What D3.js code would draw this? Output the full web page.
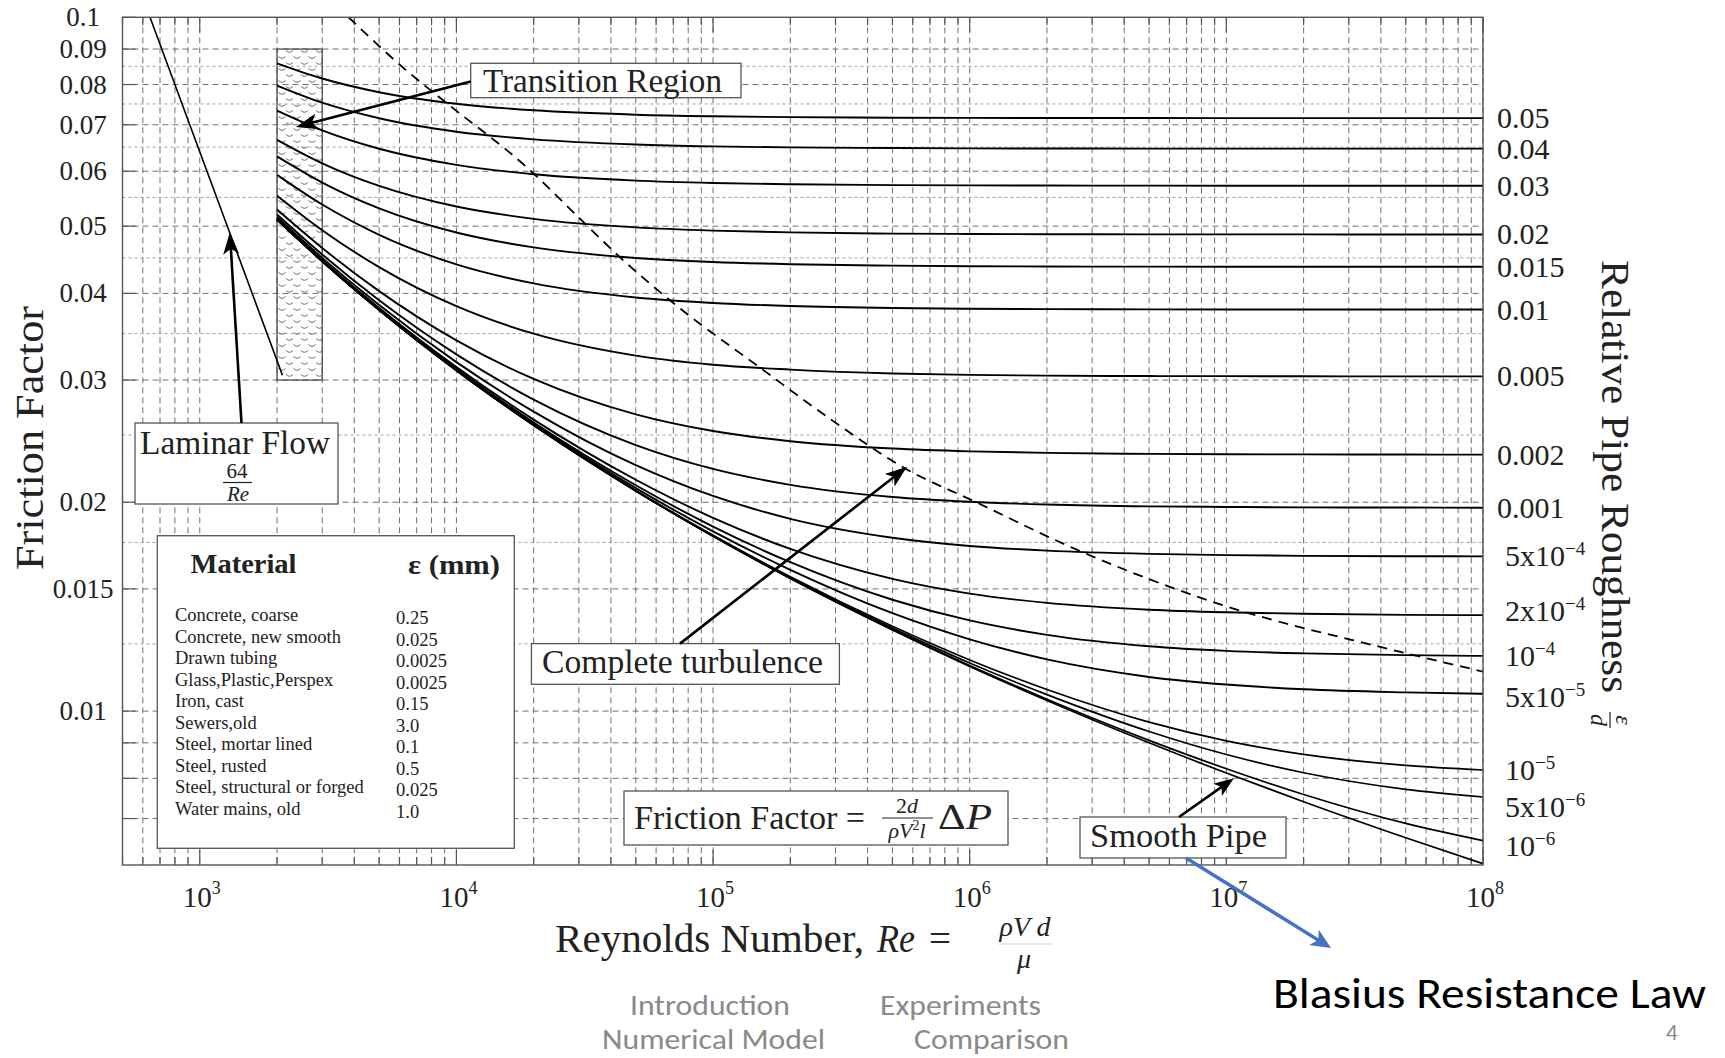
<!DOCTYPE html>
<html>
<head>
<meta charset="utf-8">
<script src="https://cdn.jsdelivr.net/npm/d3@7"></script>
<style>
  body { margin: 0; background: #fff; }
  svg { display: block; }
</style>
</head>
<body>
<svg id="chart" width="1725" height="1058"></svg>
<script>
// ---------------- data ----------------
// Reynolds numbers at which each roughness curve is sampled
const reynolds = [2e3, 3e3, 5e3, 1e4, 2e4, 5e4, 1e5, 2e5, 5e5, 1e6, 2e6, 5e6, 1e7, 2e7, 5e7, 1e8];

// relative roughness of each curve (0 = smooth pipe)
const relRoughness = [0.05, 0.04, 0.03, 0.02, 0.015, 0.01, 0.005, 0.002, 0.001,
                      5e-4, 2e-4, 1e-4, 5e-5, 1e-5, 5e-6, 1e-6, 0];

// friction factor of each curve, one row per roughness, one entry per Reynolds number
const frictionCurves = [
  [0.08584,0.08162,0.07799,0.07505,0.07344,0.07238,0.07200,0.07179,0.07166,0.07161,0.07158,0.07158,0.07157,0.07156,0.07155,0.07155],
  [0.07972,0.07532,0.07152,0.06840,0.06669,0.06556,0.06515,0.06493,0.06479,0.06473,0.06470,0.06468,0.06468,0.06467,0.06467,0.06467],
  [0.07334,0.06870,0.06464,0.06127,0.05940,0.05816,0.05770,0.05746,0.05730,0.05724,0.05721,0.05719,0.05718,0.05718,0.05717,0.05717],
  [0.06658,0.06159,0.05714,0.05336,0.05123,0.04979,0.04926,0.04897,0.04878,0.04872,0.04868,0.04866,0.04865,0.04865,0.04864,0.04864],
  [0.06302,0.05778,0.05304,0.04895,0.04659,0.04499,0.04439,0.04407,0.04386,0.04378,0.04374,0.04371,0.04370,0.04370,0.04369,0.04369],
  [0.05928,0.05372,0.04859,0.04404,0.04135,0.03946,0.03875,0.03836,0.03810,0.03801,0.03796,0.03793,0.03792,0.03791,0.03791,0.03791],
  [0.05533,0.04934,0.04364,0.03833,0.03499,0.03253,0.03156,0.03106,0.03066,0.03052,0.03045,0.03040,0.03039,0.03038,0.03037,0.03037],
  [0.05283,0.04650,0.04030,0.03422,0.03011,0.02677,0.02533,0.02449,0.02390,0.02368,0.02356,0.02348,0.02345,0.02344,0.02343,0.02342],
  [0.05197,0.04551,0.03910,0.03267,0.02812,0.02418,0.02234,0.02119,0.02035,0.02003,0.01985,0.01973,0.01969,0.01966,0.01965,0.01964],
  [0.05153,0.04500,0.03848,0.03184,0.02702,0.02262,0.02042,0.01893,0.01778,0.01730,0.01703,0.01685,0.01678,0.01674,0.01672,0.01671],
  [0.05127,0.04470,0.03810,0.03132,0.02631,0.02155,0.01899,0.01713,0.01551,0.01477,0.01432,0.01400,0.01388,0.01381,0.01376,0.01375],
  [0.05118,0.04459,0.03797,0.03115,0.02606,0.02116,0.01845,0.01639,0.01447,0.01351,0.01288,0.01240,0.01221,0.01211,0.01204,0.01201],
  [0.05114,0.04454,0.03791,0.03106,0.02594,0.02096,0.01816,0.01598,0.01384,0.01269,0.01187,0.01120,0.01092,0.01075,0.01064,0.01059],
  [0.05110,0.04450,0.03786,0.03099,0.02584,0.02080,0.01792,0.01562,0.01325,0.01185,0.01074,0.009638,0.009058,0.008662,0.008351,0.008224],
  [0.05110,0.04450,0.03785,0.03098,0.02583,0.02078,0.01789,0.01558,0.01317,0.01173,0.01056,0.009344,0.008657,0.008150,0.007713,0.007519],
  [0.05110,0.04449,0.03785,0.03097,0.02582,0.02076,0.01787,0.01554,0.01311,0.01163,0.01040,0.009074,0.008258,0.007583,0.006889,0.006506],
  [0.05109,0.04449,0.03785,0.03097,0.02581,0.02076,0.01786,0.01553,0.01309,0.01160,0.01036,0.009001,0.008142,0.007401,0.006567,0.006026]
];

// labels on the right-hand side (mantissa part and exponent part)
const roughnessLabelBase = ['0.05','0.04','0.03','0.02','0.015','0.01','0.005','0.002','0.001',
                            '5x10','2x10','10','5x10','10','5x10','10'];
const roughnessLabelExp  = ['','','','','','','','','',
                            '\u22124','\u22124','\u22124','\u22125','\u22125','\u22126','\u22126'];

// laminar flow line, f = 64/Re
const laminarRe = [640, 1000, 2100];
const laminarF  = [0.1, 0.064, 0.03048];

// boundary of the complete-turbulence zone (dashed)
const boundaryRe = [3800, 6250, 9300, 18700, 30700, 42800, 67900, 161000, 293000, 569000, 1.03e6, 2.6e6, 9.2e6, 4.25e7, 1e8];
const boundaryF  = [0.1, 0.0844, 0.0749, 0.0609, 0.051, 0.0453, 0.0391, 0.0308, 0.0262, 0.0223, 0.0201, 0.0171, 0.0143, 0.0123, 0.0114];

// transition region band
const transitionRe = [2000, 3000];
const transitionF  = [0.03, 0.09];

// axes
const yTickValues = [0.1, 0.09, 0.08, 0.07, 0.06, 0.05, 0.04, 0.03, 0.02, 0.015, 0.01];
const yTickLabels = ['0.1','0.09','0.08','0.07','0.06','0.05','0.04','0.03','0.02','0.015','0.01'];
const yUnlabelled = [0.009, 0.008, 0.007];
const yMinorGrid  = [0.085, 0.075, 0.065, 0.055, 0.045, 0.035, 0.025, 0.0175, 0.0125];
const xTickValues = [1e3, 1e4, 1e5, 1e6, 1e7, 1e8];
const xTickExponents = ['3','4','5','6','7','8'];

// material table
const materialNames = ['Concrete, coarse','Concrete, new smooth','Drawn tubing','Glass,Plastic,Perspex',
  'Iron, cast','Sewers,old','Steel, mortar lined','Steel, rusted','Steel, structural or forged','Water mains, old'];
const materialEps = ['0.25','0.025','0.0025','0.0025','0.15','3.0','0.1','0.5','0.025','1.0'];

// ---------------- drawing ----------------
const SERIF = "'Liberation Serif','Times New Roman',serif";
const SANS = "Carlito,'Liberation Sans Narrow','Open Sans',sans-serif";
const svg = d3.select('#chart');
svg.append('rect').attr('width', 1725).attr('height', 1058).attr('fill', '#fff');

const plot = { left: 122.5, right: 1483, top: 17.3, bottom: 865 };
const x = d3.scaleLog().domain([500, 1e8]).range([plot.left, plot.right]);
const y = d3.scaleLog().domain([0.006, 0.1]).range([plot.bottom, plot.top]);

const defs = svg.append('defs');
defs.append('clipPath').attr('id', 'plotClip').append('rect')
  .attr('x', plot.left).attr('y', plot.top)
  .attr('width', plot.right - plot.left).attr('height', plot.bottom - plot.top);

// small wave marks used to shade the transition band
const pat = defs.append('pattern').attr('id', 'waves').attr('patternUnits', 'userSpaceOnUse')
  .attr('width', 15).attr('height', 12);
pat.append('path').attr('d', 'M1,2.5 q3.5,3.5 7,0').attr('fill', 'none').attr('stroke', '#6a6a6a').attr('stroke-width', 1);
pat.append('path').attr('d', 'M8.5,8.5 q3.5,3.5 7,0 M-6.5,8.5 q3.5,3.5 7,0').attr('fill', 'none').attr('stroke', '#6a6a6a').attr('stroke-width', 1);

// grid
const grid = svg.append('g');
grid.selectAll('line.vg').data(x.ticks()).join('line')
  .attr('x1', d => x(d)).attr('x2', d => x(d))
  .attr('y1', plot.top).attr('y2', plot.bottom)
  .attr('stroke', '#707070').attr('stroke-width', 1).attr('stroke-dasharray', '6,4');
grid.selectAll('line.hg').data(yTickValues.slice(1).concat(yUnlabelled)).join('line')
  .attr('x1', plot.left).attr('x2', plot.right)
  .attr('y1', d => y(d)).attr('y2', d => y(d))
  .attr('stroke', '#707070').attr('stroke-width', 1).attr('stroke-dasharray', '6,4');
grid.append('g').selectAll('line').data(yMinorGrid).join('line')
  .attr('x1', plot.left).attr('x2', plot.right)
  .attr('y1', d => y(d)).attr('y2', d => y(d))
  .attr('stroke', '#a0a0a0').attr('stroke-width', 1).attr('stroke-dasharray', '3,3');

// frame ticks
const ticks = svg.append('g').attr('stroke', '#555').attr('stroke-width', 1.2);
x.ticks().forEach(v => {
  const major = xTickValues.includes(v);
  const len = major ? 15 : 8;
  ticks.append('line').attr('x1', x(v)).attr('x2', x(v)).attr('y1', plot.bottom).attr('y2', plot.bottom - len);
  ticks.append('line').attr('x1', x(v)).attr('x2', x(v)).attr('y1', plot.top).attr('y2', plot.top + len);
});
yTickValues.concat(yUnlabelled).forEach(v => {
  ticks.append('line').attr('x1', plot.left).attr('x2', plot.left + 13).attr('y1', y(v)).attr('y2', y(v));
});

// transition band
svg.append('rect')
  .attr('x', x(transitionRe[0])).attr('y', y(transitionF[1]))
  .attr('width', x(transitionRe[1]) - x(transitionRe[0]))
  .attr('height', y(transitionF[0]) - y(transitionF[1]))
  .attr('fill', 'url(#waves)').attr('stroke', '#444').attr('stroke-width', 1.2);

// curves
const curves = svg.append('g').attr('clip-path', 'url(#plotClip)');
const line = d3.line().x(d => x(d[0])).y(d => y(d[1])).curve(d3.curveMonotoneX);
frictionCurves.forEach((row, i) => {
  curves.append('path')
    .datum(reynolds.map((re, j) => [re, row[j]]))
    .attr('d', line).attr('fill', 'none').attr('stroke', '#000')
    .attr('stroke-width', i >= 13 ? 1.7 : 1.9);
});
curves.append('path')
  .datum(laminarRe.map((re, j) => [re, laminarF[j]]))
  .attr('d', d3.line().x(d => x(d[0])).y(d => y(d[1])))
  .attr('fill', 'none').attr('stroke', '#000').attr('stroke-width', 1.6);
curves.append('path')
  .datum(boundaryRe.map((re, j) => [re, boundaryF[j]]))
  .attr('d', line).attr('fill', 'none').attr('stroke', '#000')
  .attr('stroke-width', 1.8).attr('stroke-dasharray', '10,7');

// frame
svg.append('rect').attr('x', plot.left).attr('y', plot.top)
  .attr('width', plot.right - plot.left).attr('height', plot.bottom - plot.top)
  .attr('fill', 'none').attr('stroke', '#555').attr('stroke-width', 1.4);

// y tick labels
svg.append('g').selectAll('text').data(yTickValues).join('text')
  .attr('x', 83).attr('y', d => y(d) + 9)
  .attr('text-anchor', 'middle').attr('font-family', SERIF).attr('font-size', 27).attr('fill', '#222')
  .text((d, i) => yTickLabels[i]);

// x tick labels
const xl = svg.append('g').attr('font-family', SERIF).attr('fill', '#222');
xTickValues.forEach((v, i) => {
  const t = xl.append('text').attr('x', x(v) - 17).attr('y', 907).attr('font-size', 29);
  t.append('tspan').text('10');
  t.append('tspan').attr('dy', -13).attr('font-size', 18).text(xTickExponents[i]);
});

// right-hand roughness labels
const nudge = { 10: -4, 12: 3, 14: 10, 15: 5 };
const rl = svg.append('g').attr('font-family', SERIF).attr('fill', '#222');
roughnessLabelBase.forEach((b, i) => {
  const yy = y(frictionCurves[i][reynolds.length - 1]) + (nudge[i] || 0);
  const t = rl.append('text')
    .attr('x', roughnessLabelExp[i] ? 1505 : 1497).attr('y', yy + 10).attr('font-size', 30);
  t.append('tspan').text(b);
  if (roughnessLabelExp[i]) t.append('tspan').attr('dy', -11).attr('font-size', 19).text(roughnessLabelExp[i]);
});

// axis titles
svg.append('text').attr('transform', 'translate(43,438) rotate(-90)')
  .attr('text-anchor', 'middle').attr('font-family', SERIF).attr('font-size', 39).attr('fill', '#222')
  .attr('textLength', 264).attr('lengthAdjust', 'spacingAndGlyphs').text('Friction Factor');

svg.append('text').attr('transform', 'translate(1602,476.5) rotate(90)')
  .attr('text-anchor', 'middle').attr('font-family', SERIF).attr('font-size', 39).attr('fill', '#222')
  .attr('textLength', 433).attr('lengthAdjust', 'spacingAndGlyphs').text('Relative Pipe Roughness');
const ed = svg.append('g').attr('transform', 'translate(1610,720) rotate(90)')
  .attr('font-family', SERIF).attr('font-style', 'italic').attr('font-size', 24).attr('fill', '#222');
ed.append('text').attr('x', 0).attr('y', -6).attr('text-anchor', 'middle').text('\u03B5');
ed.append('line').attr('x1', -8).attr('x2', 8).attr('y1', 0).attr('y2', 0).attr('stroke', '#222').attr('stroke-width', 1.2);
ed.append('text').attr('x', 0).attr('y', 19).attr('text-anchor', 'middle').text('d');

const xt = svg.append('g').attr('font-family', SERIF).attr('fill', '#222');
xt.append('text').attr('x', 555).attr('y', 952).attr('font-size', 39)
  .attr('textLength', 309).attr('lengthAdjust', 'spacingAndGlyphs').text('Reynolds Number,');
xt.append('text').attr('x', 877).attr('y', 952).attr('font-size', 39).attr('font-style', 'italic')
  .attr('textLength', 38).attr('lengthAdjust', 'spacingAndGlyphs').text('Re');
xt.append('text').attr('x', 929).attr('y', 952).attr('font-size', 39).text('=');
xt.append('text').attr('x', 1025).attr('y', 936).attr('font-size', 28).attr('font-style', 'italic')
  .attr('text-anchor', 'middle').text('\u03C1V d');
xt.append('line').attr('x1', 998).attr('x2', 1053).attr('y1', 944).attr('y2', 944).attr('stroke', '#bbb').attr('stroke-width', 0.6);
xt.append('text').attr('x', 1024).attr('y', 968).attr('font-size', 28).attr('font-style', 'italic')
  .attr('text-anchor', 'middle').text('\u03BC');

// annotation boxes
const ann = svg.append('g').attr('font-family', SERIF).attr('fill', '#222');
function box(x0, y0, x1, y1) {
  ann.append('rect').attr('x', x0).attr('y', y0).attr('width', x1 - x0).attr('height', y1 - y0)
    .attr('fill', '#fff').attr('stroke', '#555').attr('stroke-width', 1.3);
}
box(470.7, 63.3, 741, 97.7);
ann.append('text').attr('x', 483).attr('y', 91.5).attr('font-size', 33.5)
  .attr('textLength', 239).attr('lengthAdjust', 'spacingAndGlyphs').text('Transition Region');

box(135, 423, 338, 504);
ann.append('text').attr('x', 235).attr('y', 454).attr('font-size', 33.5).attr('text-anchor', 'middle')
  .attr('textLength', 190).attr('lengthAdjust', 'spacingAndGlyphs').text('Laminar Flow');
ann.append('text').attr('x', 237).attr('y', 478).attr('font-size', 21).attr('text-anchor', 'middle').text('64');
ann.append('line').attr('x1', 223).attr('x2', 252).attr('y1', 482.5).attr('y2', 482.5).attr('stroke', '#222').attr('stroke-width', 1.2);
ann.append('text').attr('x', 238).attr('y', 501).attr('font-size', 21).attr('font-style', 'italic').attr('text-anchor', 'middle').text('Re');

box(531.4, 643.6, 839.4, 684.3);
ann.append('text').attr('x', 542).attr('y', 673).attr('font-size', 33.5)
  .attr('textLength', 281).attr('lengthAdjust', 'spacingAndGlyphs').text('Complete turbulence');

box(624, 791, 1008, 845);
ann.append('text').attr('x', 634).attr('y', 829).attr('font-size', 33.5)
  .attr('textLength', 231).attr('lengthAdjust', 'spacingAndGlyphs').text('Friction Factor =');
const num = ann.append('text').attr('x', 907).attr('y', 813).attr('font-size', 22).attr('text-anchor', 'middle');
num.append('tspan').text('2');
num.append('tspan').attr('font-style', 'italic').text('d');
ann.append('line').attr('x1', 882).attr('x2', 933).attr('y1', 818).attr('y2', 818).attr('stroke', '#222').attr('stroke-width', 1);
const den = ann.append('text').attr('x', 907).attr('y', 838).attr('font-size', 22).attr('text-anchor', 'middle').attr('font-style', 'italic');
den.append('tspan').text('\u03C1V');
den.append('tspan').attr('dy', -8).attr('font-size', 14).attr('font-style', 'normal').text('2');
den.append('tspan').attr('dy', 8).text('l');
const dp = ann.append('text').attr('x', 938).attr('y', 829).attr('font-size', 35)
  .attr('textLength', 54).attr('lengthAdjust', 'spacingAndGlyphs');
dp.append('tspan').text('\u0394');
dp.append('tspan').attr('font-style', 'italic').text('P');

box(1080, 817, 1286, 858);
ann.append('text').attr('x', 1090).attr('y', 847).attr('font-size', 33.5)
  .attr('textLength', 177).attr('lengthAdjust', 'spacingAndGlyphs').text('Smooth Pipe');

// material table
box(157.3, 535.7, 514.3, 848.3);
ann.append('text').attr('x', 190.5).attr('y', 573).attr('font-size', 28).attr('font-weight', 'bold')
  .attr('textLength', 106).attr('lengthAdjust', 'spacingAndGlyphs').text('Material');
ann.append('text').attr('x', 408).attr('y', 574).attr('font-size', 28).attr('font-weight', 'bold')
  .attr('textLength', 92).attr('lengthAdjust', 'spacingAndGlyphs').text('\u03B5 (mm)');
ann.append('g').selectAll('text').data(materialNames).join('text')
  .attr('x', 175).attr('y', (d, i) => 621 + i * 21.56).attr('font-size', 18.5).text(d => d);
ann.append('g').selectAll('text').data(materialEps).join('text')
  .attr('x', 396).attr('y', (d, i) => 624 + i * 21.56).attr('font-size', 18.5).text(d => d);

// arrows
function arrow(x1, y1, x2, y2, color, width, len, half) {
  const dx = x2 - x1, dy = y2 - y1, L = Math.hypot(dx, dy), ux = dx / L, uy = dy / L;
  const px = -uy, py = ux;
  const bx = x2 - ux * len, by = y2 - uy * len;
  const g = svg.append('g');
  g.append('line').attr('x1', x1).attr('y1', y1)
    .attr('x2', x2 - ux * len * 0.7).attr('y2', y2 - uy * len * 0.7)
    .attr('stroke', color).attr('stroke-width', width);
  const pts = [[x2, y2], [bx + px * half, by + py * half], [x2 - ux * len * 0.75, y2 - uy * len * 0.75], [bx - px * half, by - py * half]];
  g.append('polygon').attr('points', pts.map(p => p.join(',')).join(' ')).attr('fill', color);
}
arrow(470.7, 81.5, x(2370), y(0.0695), '#000', 2.6, 22, 8);
arrow(241.5, 423, x(1310), y(0.049), '#000', 2.6, 22, 8);
arrow(680, 643.6, x(5.7e5), y(0.0225), '#000', 2.6, 22, 8);
arrow(1179, 817, x(1.07e7), y(0.0080), '#000', 2.6, 20, 7.5);
arrow(1186, 858, 1331, 948, '#4472C4', 3.5, 20, 9);

// slide caption and navigation
const cap = svg.append('g').attr('font-family', SANS);
cap.append('text').attr('x', 1273).attr('y', 1008).attr('font-size', 44).attr('fill', '#000')
  .attr('textLength', 433).attr('lengthAdjust', 'spacingAndGlyphs').text('Blasius Resistance Law');
const nav = [
  ['Introduction', 630, 1015, 160],
  ['Experiments', 880, 1015, 161],
  ['Numerical Model', 602, 1049, 223],
  ['Comparison', 914, 1049, 155]
];
nav.forEach(([t, xx, yy, w]) => {
  cap.append('text').attr('x', xx).attr('y', yy).attr('font-size', 29).attr('fill', '#8a8a8a')
    .attr('textLength', w).attr('lengthAdjust', 'spacingAndGlyphs').text(t);
});
cap.append('text').attr('x', 1666).attr('y', 1040).attr('font-size', 23).attr('fill', '#8a8a8a').text('4');
</script>
</body>
</html>
